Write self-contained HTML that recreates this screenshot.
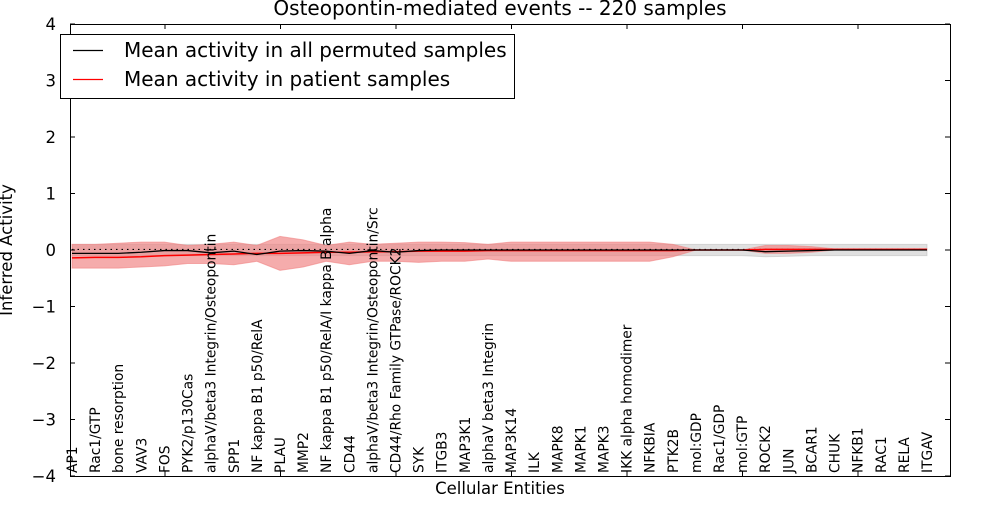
<!DOCTYPE html>
<html><head><meta charset="utf-8"><style>
body{margin:0;background:#fff;}
svg text{font-family:"DejaVu Sans","Liberation Sans",sans-serif;}
</style></head><body>
<svg id="chart" width="1000" height="500" xmlns="http://www.w3.org/2000/svg">
<rect width="1000" height="500" fill="#fff"/>
<text x="500" y="15" text-anchor="middle" font-size="20">Osteopontin-mediated events -- 220 samples</text>
<g id="plot"></g>
</svg>
<script>
const categories=["AP1","Rac1/GTP","bone resorption","VAV3","FOS","PYK2/p130Cas","alphaV/beta3 Integrin/Osteopontin","SPP1","NF kappa B1 p50/RelA","PLAU","MMP2","NF kappa B1 p50/RelA/I kappa B alpha","CD44","alphaV/beta3 Integrin/Osteopontin/Src","CD44/Rho Family GTPase/ROCK2","SYK","ITGB3","MAP3K1","alphaV beta3 Integrin","MAP3K14","ILK","MAPK8","MAPK1","MAPK3","IKK alpha homodimer","NFKBIA","PTK2B","mol:GDP","Rac1/GDP","mol:GTP","ROCK2","JUN","BCAR1","CHUK","NFKB1","RAC1","RELA","ITGAV"];
const permMean=[-0.06,-0.06,-0.06,-0.04,-0.01,-0.01,-0.05,-0.02,-0.08,-0.02,-0.01,-0.02,-0.06,-0.01,-0.04,-0.01,0,0,0,0,0,0,0,0,0,0,0,0,0,0,-0.03,-0.02,-0.01,0,0,0,0,0];
const permUpper=[0.1,0.1,0.1,0.1,0.1,0.1,0.1,0.1,0.1,0.1,0.1,0.1,0.1,0.1,0.1,0.1,0.1,0.1,0.1,0.1,0.1,0.1,0.1,0.1,0.1,0.1,0.1,0.1,0.1,0.1,0.1,0.1,0.1,0.1,0.1,0.1,0.1,0.1];
const permLower=[-0.1,-0.1,-0.1,-0.1,-0.1,-0.1,-0.1,-0.1,-0.1,-0.1,-0.1,-0.1,-0.1,-0.1,-0.1,-0.1,-0.1,-0.1,-0.1,-0.1,-0.1,-0.1,-0.1,-0.1,-0.1,-0.1,-0.1,-0.1,-0.1,-0.1,-0.12,-0.11,-0.1,-0.1,-0.1,-0.1,-0.1,-0.1];
const patMean=[-0.14,-0.13,-0.13,-0.12,-0.1,-0.09,-0.08,-0.07,-0.06,-0.06,-0.05,-0.04,-0.04,-0.03,-0.03,-0.02,-0.02,-0.02,-0.01,-0.01,-0.01,-0.01,-0.01,-0.01,-0.01,-0.01,-0.01,0,0,0,0.01,0.01,0.01,0.01,0.01,0.01,0.01,0.01];
const patUpper=[0.1,0.1,0.12,0.14,0.14,0.08,0.1,0.14,0.08,0.24,0.18,0.08,0.14,0.1,0.12,0.14,0.14,0.13,0.1,0.14,0.14,0.14,0.14,0.14,0.14,0.14,0.1,0,0,0,0.08,0.08,0.06,0.02,0.02,0.02,0.02,0.02];
const patLower=[-0.32,-0.32,-0.32,-0.3,-0.28,-0.24,-0.24,-0.26,-0.2,-0.36,-0.3,-0.2,-0.26,-0.2,-0.2,-0.22,-0.2,-0.2,-0.16,-0.2,-0.2,-0.2,-0.2,-0.2,-0.2,-0.2,-0.12,0,0,0,-0.06,-0.06,-0.04,0,0,0,0,0];
const yTicks=[-4,-3,-2,-1,0,1,2,3,4];
const yTickLabels=["\u22124","\u22123","\u22122","\u22121","0","1","2","3","4"];

const L=70,R=950,T=24,B=476,NS="http://www.w3.org/2000/svg";
const g=document.getElementById('plot');
function xs(i){return 72+i*(927-72)/(categories.length-1);}
function ys(v){return T+(4-v)*(B-T)/8;}
function mk(tag,at){const e=document.createElementNS(NS,tag);for(const k in at)e.setAttribute(k,at[k]);g.appendChild(e);return e;}
function band(up,lo){let d="M"+up.map((v,i)=>xs(i)+","+ys(v)).join("L");for(let i=lo.length-1;i>=0;i--)d+="L"+xs(i)+","+ys(lo[i]);return d+"Z";}
function line(a){return "M"+a.map((v,i)=>xs(i)+","+ys(v)).join("L");}
let e;
e=mk('path',{d:band(permUpper,permLower),fill:'#bbbbbb','fill-opacity':0.45,stroke:'#aaa','stroke-opacity':0.4});

e=mk('path',{d:band(patUpper,patLower),fill:'#f08080','fill-opacity':0.65,stroke:'#f08080','stroke-opacity':0.6});

e=mk('line',{x1:xs(0),x2:xs(categories.length-1),y1:ys(0.01),y2:ys(0.01),stroke:'#000','stroke-dasharray':'1.5,4','stroke-width':1.2});

e=mk('path',{d:line(patMean),fill:'none',stroke:'#ff0000','stroke-width':1.5});

e=mk('path',{d:line(permMean),fill:'none',stroke:'#000','stroke-width':1.3});

e=mk('rect',{x:L+0.5,y:T+0.5,width:R-L,height:B-T,fill:'none',stroke:'#000','stroke-width':1});

yTicks.forEach((v,i)=>{
 const y=ys(v);
 let t=mk('line',{x1:L,x2:L+5,y1:y,y2:y,stroke:'#000'});
 
 t=mk('line',{x1:R-5,x2:R,y1:y,y2:y,stroke:'#000'});
 
 t=mk('text',{x:L-14,y:y+6,'text-anchor':'end','font-size':16.5});t.textContent=yTickLabels[i];
 
});
for(let k=0;k<7;k++){const x=165+k*115.5;
 let t=mk('line',{x1:x,x2:x,y1:T,y2:T+5,stroke:'#000'});
 
 t=mk('line',{x1:x,x2:x,y1:B-5,y2:B,stroke:'#000'});
 }
categories.forEach((c,i)=>{
 const x=xs(i)+5,y=473;
 const t=mk('text',{x:x,y:y,'font-size':13.8,transform:`rotate(-90 ${x} ${y})`});t.textContent=c;
 
});
e=mk('text',{x:500,y:494,'text-anchor':'middle','font-size':16.5});e.textContent='Cellular Entities';

e=mk('text',{x:12,y:250,'text-anchor':'middle','font-size':16.5,transform:'rotate(-90 12 250)'});e.textContent='Inferred Activity';

e=mk('rect',{x:60.5,y:34.5,width:454,height:64,fill:'#fff',stroke:'#000'});

e=mk('line',{x1:73,x2:103,y1:50.5,y2:50.5,stroke:'#000','stroke-width':1.3});

e=mk('text',{x:124,y:57,'font-size':20});e.textContent='Mean activity in all permuted samples';

e=mk('line',{x1:73,x2:103,y1:79.5,y2:79.5,stroke:'#f00','stroke-width':1.3});

e=mk('text',{x:124,y:86,'font-size':20});e.textContent='Mean activity in patient samples';

</script>
</body></html>
